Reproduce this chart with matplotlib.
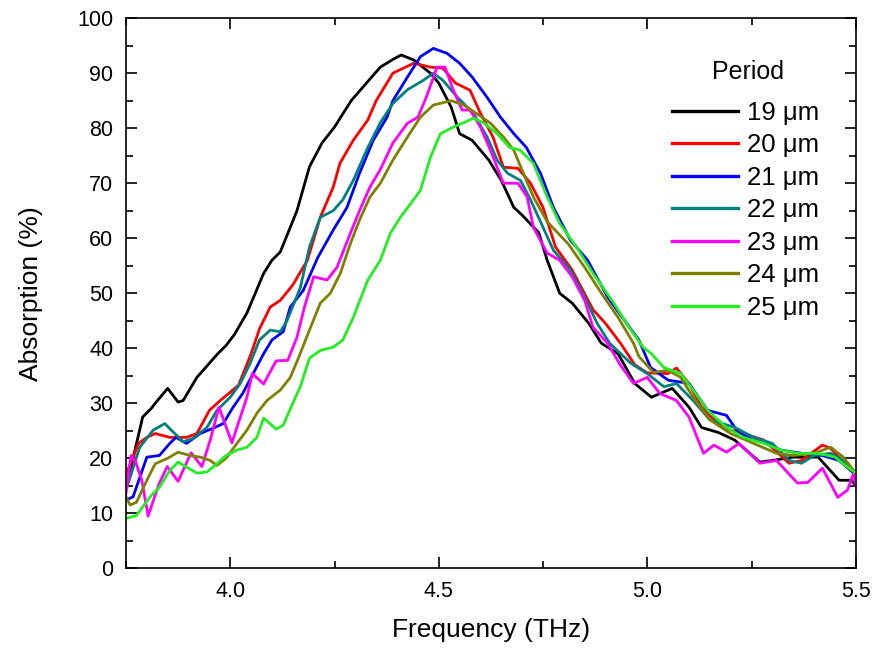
import matplotlib
matplotlib.use("Agg")
import matplotlib.pyplot as plt
from matplotlib.ticker import MultipleLocator

plt.rcParams['font.family'] = ['Liberation Sans', 'DejaVu Sans']

labels = ["19 μm", "20 μm", "21 μm", "22 μm", "23 μm", "24 μm", "25 μm"]
colors = ["#000000", "#FF0000", "#0000FF", "#008080", "#FF00FF", "#808000", "#22EE22"]

x19 = [3.75, 3.767, 3.79, 3.81, 3.82, 3.85, 3.875, 3.887, 3.92, 3.97, 3.99, 4.01, 4.04, 4.08, 4.10, 4.12,
       4.16, 4.19, 4.22, 4.25, 4.29, 4.33, 4.36, 4.39, 4.41, 4.44, 4.48, 4.50, 4.53, 4.55, 4.58, 4.62,
       4.65, 4.68, 4.70, 4.74, 4.76, 4.79, 4.82, 4.86, 4.89, 4.93, 4.97, 5.01, 5.06, 5.10, 5.13, 5.17,
       5.21, 5.27, 5.30, 5.35, 5.41, 5.46, 5.49, 5.5]
y19 = [15, 20, 27.5, 29, 30, 32.7, 30.2, 30.5, 34.7, 39, 40.5, 42.5, 46.4, 53.6, 56, 57.5,
       65, 73, 77.3, 80.2, 85, 88.5, 91.1, 92.5, 93.3, 92.4, 90, 88.2, 83.8, 79, 77.8, 74.2,
       70.5, 65.6, 64.2, 61, 56, 50, 48.2, 44.5, 40.9, 39, 33.6, 31.1, 32.7, 29.3, 25.6, 24.7,
       23.3, 19.3, 19.6, 20.2, 20.2, 16, 16, 15]

x20 = [3.75, 3.755, 3.78, 3.80, 3.82, 3.855, 3.895, 3.92, 3.95, 3.976, 4.0, 4.02, 4.05, 4.07, 4.096, 4.12,
       4.15, 4.185, 4.216, 4.247, 4.263, 4.295, 4.33, 4.35, 4.39, 4.44, 4.48, 4.51, 4.54, 4.575, 4.60,
       4.63, 4.655, 4.69, 4.72, 4.75, 4.78, 4.82, 4.87, 4.90, 4.935, 4.97, 5.0, 5.05, 5.07, 5.10, 5.13,
       5.18, 5.23, 5.28, 5.34, 5.37, 5.42, 5.44, 5.48, 5.5]
y20 = [15, 18, 22.7, 23.8, 24.5, 23.8, 23.8, 24.5, 28.7, 30.5, 32, 33.3, 39, 43.5, 47.5, 48.7,
       51.5, 56, 63.8, 69.3, 73.6, 77.8, 81.5, 85, 90, 91.8, 91.1, 90.9, 88.2, 86.9, 82.7,
       78.4, 72.9, 72.7, 70, 65.6, 58.4, 54.2, 47, 44.5, 41, 37, 35.5, 35.4, 36.4, 33.6, 29.3,
       25.6, 24.5, 23.3, 19.1, 19.6, 22.4, 21.8, 18.4, 17]

x21 = [3.75, 3.767, 3.80, 3.83, 3.855, 3.87, 3.895, 3.928, 3.96, 3.983, 4.007, 4.03, 4.055, 4.08, 4.10,
       4.127, 4.144, 4.175, 4.21, 4.247, 4.28, 4.31, 4.343, 4.376, 4.39, 4.425, 4.456, 4.487, 4.52,
       4.55, 4.58, 4.616, 4.648, 4.68, 4.71, 4.744, 4.775, 4.816, 4.857, 4.905, 4.94, 4.98, 5.008,
       5.05, 5.10, 5.145, 5.19, 5.22, 5.27, 5.32, 5.37, 5.42, 5.46, 5.5]
y21 = [12.4, 13, 20.2, 20.5, 22.7, 23.8, 22.7, 24.5, 25.5, 26.3, 29.3, 31.8, 35.4, 39, 41.5,
       43, 47.5, 50.5, 56.5, 61.5, 65.6, 71.8, 77.8, 82, 85, 89.3, 93, 94.5, 93.6,
       91.8, 89.3, 85.6, 82, 79, 76.5, 71.8, 65.6, 59.6, 56, 49.3, 45.6, 41.5, 36.5,
       34.2, 33.6, 28.7, 27.8, 24.5, 23.3, 21.5, 20.9, 20.5, 19.6, 17]

x22 = [3.752, 3.783, 3.815, 3.843, 3.86, 3.887, 3.91, 3.944, 3.968, 4.0, 4.024, 4.048, 4.07, 4.096, 4.12,
       4.136, 4.168, 4.19, 4.216, 4.247, 4.27, 4.295, 4.33, 4.36, 4.39, 4.425, 4.463, 4.487, 4.51,
       4.545, 4.583, 4.616, 4.64, 4.665, 4.696, 4.72, 4.75, 4.775, 4.816, 4.85, 4.88, 4.91, 4.96,
       5.0, 5.04, 5.07, 5.11, 5.15, 5.21, 5.255, 5.30, 5.34, 5.37, 5.40, 5.44, 5.47, 5.5]
y22 = [14.7, 22, 25.1, 26.3, 25, 23, 23.6, 25.6, 28.7, 31.1, 33.6, 37.3, 41.5, 43.3, 43,
       45, 51, 58.4, 63.8, 65, 67, 70.5, 76.5, 81, 84.5, 87, 88.7, 90, 88.7,
       85.6, 82.7, 78.4, 74.2, 71.8, 70.5, 67, 62, 57.8, 54.2, 49.3, 44.5, 40.9, 37.3,
       35.4, 33, 33.6, 30.5, 27, 25.6, 23.8, 22.7, 19.6, 19.1, 20.5, 20.9, 19.6, 17.3]

x23 = [3.75, 3.762, 3.772, 3.788, 3.803, 3.83, 3.849, 3.875, 3.906, 3.932, 3.952, 3.973, 4.004, 4.016,
       4.04, 4.053, 4.08, 4.11, 4.138, 4.16, 4.178, 4.2, 4.232, 4.256, 4.288, 4.31, 4.335, 4.36, 4.39,
       4.425, 4.45, 4.47, 4.496, 4.515, 4.535, 4.556, 4.575, 4.60, 4.624, 4.655, 4.69, 4.712, 4.727,
       4.76, 4.79, 4.82, 4.85, 4.87, 4.905, 4.935, 4.967, 5.0, 5.03, 5.07, 5.10, 5.135, 5.16, 5.19,
       5.22, 5.27, 5.31, 5.36, 5.385, 5.42, 5.457, 5.48, 5.495, 5.5]
y23 = [13.6, 20.5, 19.6, 16, 9.5, 15.5, 18.5, 15.8, 21, 18.5, 23.3, 29.3, 22.8, 25.6,
       31.1, 35.4, 33.5, 37.7, 37.8, 42, 47.5, 53, 52.4, 54.7, 60.9, 65, 69.3, 72.5, 77.3,
       80.9, 82, 85.6, 91.1, 91.1, 86.9, 83.3, 83.3, 80.2, 76, 70, 70, 67.5, 62,
       57.3, 56, 53, 48.7, 43.8, 40.9, 37, 33.6, 34.7, 31.8, 30.5, 27.5, 20.9, 22.4, 21.1,
       22.7, 19.1, 19.6, 15.5, 15.6, 18.2, 12.9, 14.2, 17.3, 15]

x24 = [3.75, 3.76, 3.775, 3.80, 3.82, 3.85, 3.875, 3.904, 3.928, 3.952, 3.968, 3.99, 4.016, 4.04, 4.064,
       4.088, 4.12, 4.144, 4.165, 4.19, 4.216, 4.24, 4.264, 4.288, 4.31, 4.335, 4.36, 4.39, 4.425,
       4.456, 4.487, 4.53, 4.56, 4.59, 4.624, 4.655, 4.68, 4.703, 4.727, 4.76, 4.81, 4.85, 4.89,
       4.93, 4.967, 4.98, 5.015, 5.05, 5.08, 5.11, 5.15, 5.20, 5.255, 5.31, 5.35, 5.40, 5.44, 5.47, 5.5]
y24 = [13, 11.5, 12, 16, 19, 20, 21.1, 20.5, 20.2, 19.6, 18.7, 20, 22.7, 25.1, 28.2,
       30.5, 32.4, 34.7, 38.5, 43.3, 48.2, 50, 53.6, 59, 63.3, 67.5, 70, 74.2, 78.4,
       82, 84.2, 85, 84.2, 82.7, 80.9, 78.4, 76, 71.8, 67.5, 63, 59, 54.7, 50,
       45.6, 40.9, 38.5, 35.6, 36, 34.7, 31.1, 27, 24.5, 22.7, 20.9, 20.5, 20.9, 22, 20.2, 17.3]

x25 = [3.752, 3.775, 3.808, 3.83, 3.855, 3.875, 3.895, 3.92, 3.944, 3.968, 3.99, 4.016, 4.04, 4.064,
       4.08, 4.11, 4.127, 4.15, 4.168, 4.19, 4.216, 4.247, 4.27, 4.295, 4.33, 4.36, 4.384, 4.408,
       4.425, 4.456, 4.48, 4.504, 4.535, 4.56, 4.583, 4.607, 4.64, 4.67, 4.695, 4.727, 4.76, 4.79,
       4.83, 4.87, 4.92, 4.95, 4.99, 5.01, 5.04, 5.08, 5.11, 5.145, 5.19, 5.23, 5.28, 5.32, 5.36,
       5.41, 5.45, 5.48, 5.5]
y25 = [9.1, 9.6, 13, 14.7, 17.8, 19.3, 18.4, 17.3, 17.5, 19, 20.5, 21.5, 22, 23.8,
       27.3, 25.3, 26, 30, 33, 38.2, 39.6, 40.2, 41.5, 45.6, 52.4, 56, 60.9, 63.8,
       65.5, 68.7, 74.7, 79, 80.2, 81, 81.8, 81, 79, 76.5, 76, 73.6, 67.5, 62.7,
       58.4, 53.6, 48.2, 44.5, 40.2, 39, 36.5, 35.4, 32.4, 28.7, 25.6, 23.8, 22.7, 21.5, 20.9,
       20.9, 20.2, 18.4, 17.3]

xs = [x19, x20, x21, x22, x23, x24, x25]
ys = [y19, y20, y21, y22, y23, y24, y25]

fig = plt.figure(figsize=(8.75, 6.48), dpi=100)
ax = fig.add_axes([0.144, 0.123, 0.834, 0.849])

for x, y, c, lab in zip(xs, ys, colors, labels):
    ax.plot(x, y, color=c, lw=2.0, label=lab)

ax.set_xlim(3.75, 5.5)
ax.set_ylim(0, 100)
ax.set_xticks([4.0, 4.5, 5.0, 5.5])
ax.set_xticklabels(["4.0", "4.5", "5.0", "5.5"])
ax.xaxis.set_minor_locator(MultipleLocator(0.25))
ax.yaxis.set_major_locator(MultipleLocator(10))
ax.yaxis.set_minor_locator(MultipleLocator(5))
ax.tick_params(which='both', direction='in', top=True, right=True, width=1.2, labelsize=15.5)
ax.tick_params(which='major', length=8)
ax.tick_params(axis='y', which='major', pad=9)
ax.tick_params(axis='x', which='major', pad=9)
ax.tick_params(which='minor', length=5)
for s in ax.spines.values():
    s.set_linewidth(1.2)

ax.set_xlabel("Frequency (THz)", fontsize=19, labelpad=12)
ax.set_ylabel("Absorption (%)", fontsize=19, labelpad=25)

fig.text(748 / 875, 1 - 72 / 648, "Period", fontsize=18, ha='center', va='center')
leg = ax.legend(loc='upper left', bbox_to_anchor=(672 / 875, 1 - 101 / 648),
                bbox_transform=fig.transFigure, borderaxespad=0, borderpad=0,
                frameon=False, fontsize=18.5, handlelength=2.55,
                handletextpad=0.35, labelspacing=0.33)
for line in leg.get_lines():
    line.set_linewidth(2.4)

fig.savefig("out.png", dpi=100)
